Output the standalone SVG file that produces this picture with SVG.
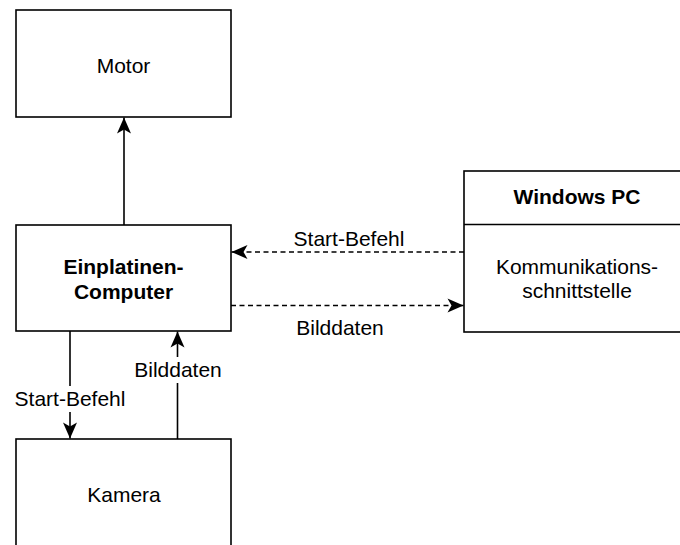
<svg xmlns="http://www.w3.org/2000/svg" width="680" height="545" viewBox="0 0 680 545">
  <style>
    .box { fill: #ffffff; stroke: #000000; stroke-width: 1.6; }
    .lbl { font-family: "Liberation Sans", Arial, sans-serif; font-size: 21px; fill: #000000; text-anchor: middle; }
    .bold { font-weight: bold; }
    .link { fill: none; stroke: #000000; stroke-width: 1.6; }
    .dash { stroke-dasharray: 5 3.5; }
  </style>
  <defs>
    <marker id="arrow" markerUnits="userSpaceOnUse" markerWidth="18" markerHeight="16" viewBox="-17 -8 18 16" refX="0" refY="0" orient="auto">
      <path d="M0,0 L-16,-7 L-12,0 L-16,7 Z" fill="#000000" stroke="none"/>
    </marker>
  </defs>

  <rect width="680" height="545" fill="#ffffff"/>

  <!-- Motor -->
  <g id="motor">
    <rect class="box" x="16" y="10" width="215" height="107"/>
    <text class="lbl" x="123.5" y="72.5">Motor</text>
  </g>

  <!-- Single-board computer -->
  <g id="computer">
    <rect class="box" x="16" y="225" width="215" height="106"/>
    <text class="lbl bold" x="123.5" y="274">Einplatinen-</text>
    <text class="lbl bold" x="123.5" y="299">Computer</text>
  </g>

  <!-- Windows PC with communication interface -->
  <g id="windows-pc">
    <rect class="box" x="464" y="171" width="226" height="161"/>
    <line class="link" x1="464" y1="224.5" x2="690" y2="224.5"/>
    <text class="lbl bold" x="577" y="203.5">Windows PC</text>
    <text class="lbl" x="577" y="274">Kommunikations-</text>
    <text class="lbl" x="577" y="298">schnittstelle</text>
  </g>

  <!-- Camera -->
  <g id="kamera">
    <rect class="box" x="16" y="439" width="215" height="112"/>
    <text class="lbl" x="124" y="501.5">Kamera</text>
  </g>

  <!-- Connectors -->
  <g id="connectors">
    <line class="link" x1="124" y1="225" x2="124" y2="117.5" marker-end="url(#arrow)"/>
    <line class="link dash" x1="464" y1="252" x2="231.5" y2="252" marker-end="url(#arrow)"/>
    <line class="link dash" x1="231" y1="305.5" x2="463.5" y2="305.5" marker-end="url(#arrow)"/>
    <line class="link" x1="70" y1="331" x2="70" y2="438.5" marker-end="url(#arrow)"/>
    <line class="link" x1="177.5" y1="439" x2="177.5" y2="331.5" marker-end="url(#arrow)"/>

    <rect x="14" y="386" width="112" height="26" fill="#ffffff"/>
    <text class="lbl" x="70" y="405.5">Start-Befehl</text>
    <rect x="133" y="357" width="90" height="26" fill="#ffffff"/>
    <text class="lbl" x="178" y="377">Bilddaten</text>
    <text class="lbl" x="349" y="246">Start-Befehl</text>
    <text class="lbl" x="340" y="334.5">Bilddaten</text>
  </g>
</svg>
